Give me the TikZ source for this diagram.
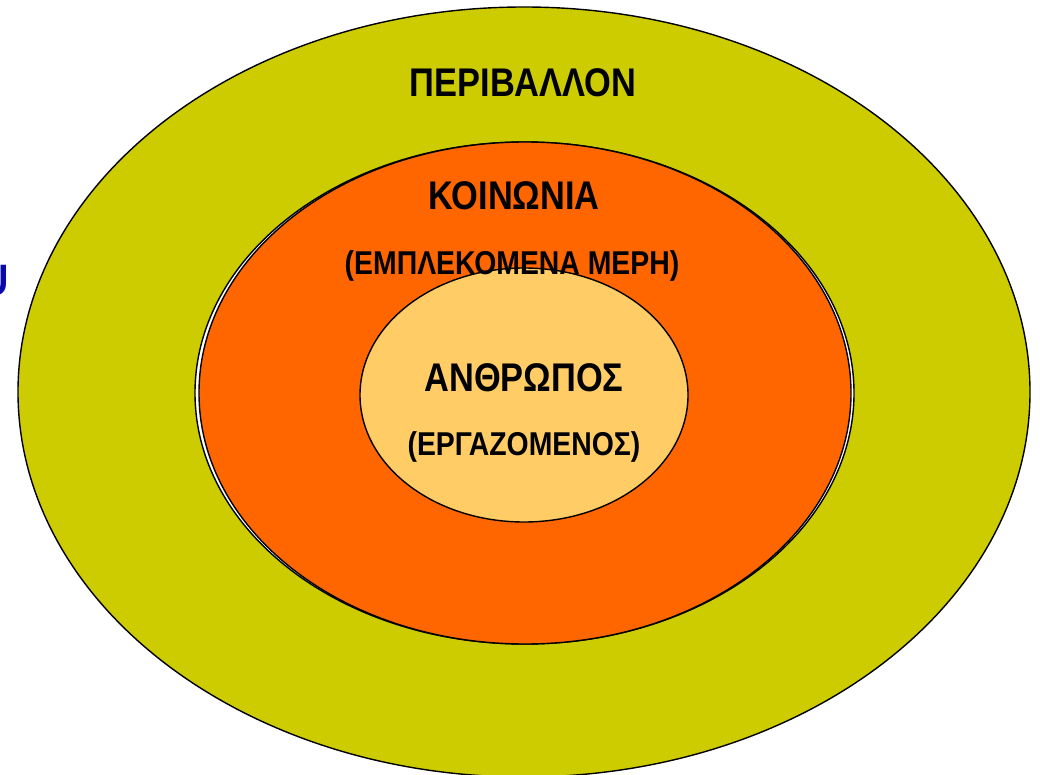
\documentclass[tikz,border=0pt]{standalone}
\usepackage{fontspec}
\usetikzlibrary{shapes.geometric}
\newfontfamily\lab[FakeStretch=0.86]{Liberation Sans}
\definecolor{envcol}{RGB}{204,204,0}
\definecolor{soccol}{RGB}{255,102,0}
\definecolor{mancol}{RGB}{255,204,102}
\definecolor{bluecol}{RGB}{10,10,170}
\tikzset{
  ring/.style={ellipse, draw=black, line width=1.4pt, inner sep=0pt},
  big/.style={font=\lab\bfseries\fontsize{40}{40}\selectfont, anchor=base, inner sep=0pt},
  small/.style={font=\lab\bfseries\fontsize{33}{33}\selectfont, anchor=base, inner sep=0pt}
}
\begin{document}
\begin{tikzpicture}[x=1pt,y=-1pt]
\useasboundingbox (0,0) rectangle (1040,775);
\begin{scope}
\clip (0,0) rectangle (1040,775);
\node[ring, fill=envcol, minimum width=1012pt, minimum height=770pt] (env) at (524,392) {};
\node[ring, fill=white, minimum width=659pt, minimum height=502pt] (socA) at (524.5,393) {};
\node[ring, fill=soccol, minimum width=652pt, minimum height=502pt] (socB) at (525,393) {};
\node[ring, draw=none, fill=mancol, minimum width=328pt, minimum height=254pt] (manfill) at (524,395) {};
\node[big] (tenv) at (523,97) {ΠΕΡΙΒΑΛΛΟΝ};
\node[big] (tsoc) at (514,210) {ΚΟΙΝΩΝΙΑ};
\node[small] (tsoc2) at (512,275) {(ΕΜΠΛΕΚΟΜΕΝΑ ΜΕΡΗ)};
\node[ring, minimum width=328pt, minimum height=254pt] (man) at (524,395) {};
\node[big] (tman) at (524,391) {ΑΝΘΡΩΠΟΣ};
\node[small] (tman2) at (524,455) {(ΕΡΓΑΖΟΜΕΝΟΣ)};
\node[font=\lab\bfseries\fontsize{44}{44}\selectfont, text=bluecol, anchor=base east, inner sep=0pt] (cut) at (9,295) {U};
\end{scope}
\end{tikzpicture}
\end{document}
